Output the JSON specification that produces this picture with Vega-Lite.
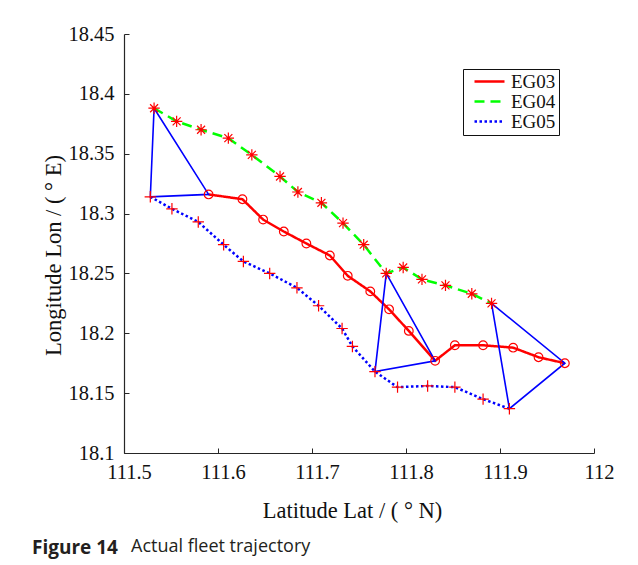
{
  "$schema": "https://vega.github.io/schema/vega-lite/v6.json",
  "autosize": "none",
  "width": 470,
  "height": 419,
  "padding": {"left": 124, "top": 34, "right": 44, "bottom": 112},
  "background": "white",
  "title": {
    "text": "Figure 14",
    "subtitle": "Actual fleet trajectory",
    "orient": "bottom",
    "anchor": "start",
    "frame": "group",
    "dx": 7,
    "offset": 17,
    "font": "Open Sans",
    "fontSize": 19,
    "fontWeight": "bold",
    "color": "#231f20",
    "subtitleFont": "Open Sans",
    "subtitleFontSize": 18,
    "subtitleFontWeight": "normal",
    "subtitleColor": "#231f20",
    "subtitlePadding": -20,
    "encoding": {"dx": {"value": -92}}
  },
  "datasets": {
    "track": [
      {"ship": "EG03", "lat": 111.590, "lon": 18.316},
      {"ship": "EG03", "lat": 111.626, "lon": 18.312},
      {"ship": "EG03", "lat": 111.648, "lon": 18.295},
      {"ship": "EG03", "lat": 111.670, "lon": 18.285},
      {"ship": "EG03", "lat": 111.694, "lon": 18.275},
      {"ship": "EG03", "lat": 111.719, "lon": 18.265},
      {"ship": "EG03", "lat": 111.738, "lon": 18.248},
      {"ship": "EG03", "lat": 111.762, "lon": 18.235},
      {"ship": "EG03", "lat": 111.782, "lon": 18.220},
      {"ship": "EG03", "lat": 111.803, "lon": 18.202},
      {"ship": "EG03", "lat": 111.831, "lon": 18.177},
      {"ship": "EG03", "lat": 111.852, "lon": 18.190},
      {"ship": "EG03", "lat": 111.882, "lon": 18.190},
      {"ship": "EG03", "lat": 111.914, "lon": 18.188},
      {"ship": "EG03", "lat": 111.941, "lon": 18.180},
      {"ship": "EG03", "lat": 111.969, "lon": 18.175},
      {"ship": "EG04", "lat": 111.532, "lon": 18.388},
      {"ship": "EG04", "lat": 111.556, "lon": 18.377},
      {"ship": "EG04", "lat": 111.582, "lon": 18.370},
      {"ship": "EG04", "lat": 111.611, "lon": 18.363},
      {"ship": "EG04", "lat": 111.636, "lon": 18.349},
      {"ship": "EG04", "lat": 111.666, "lon": 18.331},
      {"ship": "EG04", "lat": 111.685, "lon": 18.318},
      {"ship": "EG04", "lat": 111.710, "lon": 18.309},
      {"ship": "EG04", "lat": 111.733, "lon": 18.292},
      {"ship": "EG04", "lat": 111.755, "lon": 18.274},
      {"ship": "EG04", "lat": 111.779, "lon": 18.250},
      {"ship": "EG04", "lat": 111.797, "lon": 18.255},
      {"ship": "EG04", "lat": 111.817, "lon": 18.245},
      {"ship": "EG04", "lat": 111.842, "lon": 18.240},
      {"ship": "EG04", "lat": 111.870, "lon": 18.233},
      {"ship": "EG04", "lat": 111.891, "lon": 18.225},
      {"ship": "EG05", "lat": 111.528, "lon": 18.314},
      {"ship": "EG05", "lat": 111.551, "lon": 18.304},
      {"ship": "EG05", "lat": 111.579, "lon": 18.293},
      {"ship": "EG05", "lat": 111.606, "lon": 18.274},
      {"ship": "EG05", "lat": 111.627, "lon": 18.260},
      {"ship": "EG05", "lat": 111.655, "lon": 18.250},
      {"ship": "EG05", "lat": 111.684, "lon": 18.238},
      {"ship": "EG05", "lat": 111.707, "lon": 18.223},
      {"ship": "EG05", "lat": 111.732, "lon": 18.204},
      {"ship": "EG05", "lat": 111.743, "lon": 18.189},
      {"ship": "EG05", "lat": 111.767, "lon": 18.168},
      {"ship": "EG05", "lat": 111.791, "lon": 18.155},
      {"ship": "EG05", "lat": 111.823, "lon": 18.156},
      {"ship": "EG05", "lat": 111.852, "lon": 18.155},
      {"ship": "EG05", "lat": 111.882, "lon": 18.145},
      {"ship": "EG05", "lat": 111.910, "lon": 18.137}
    ],
    "tri": [
      {"tri": 1, "ord": 0, "lat": 111.532, "lon": 18.388},
      {"tri": 1, "ord": 1, "lat": 111.590, "lon": 18.316},
      {"tri": 1, "ord": 2, "lat": 111.528, "lon": 18.314},
      {"tri": 1, "ord": 3, "lat": 111.532, "lon": 18.388},
      {"tri": 2, "ord": 0, "lat": 111.779, "lon": 18.250},
      {"tri": 2, "ord": 1, "lat": 111.831, "lon": 18.177},
      {"tri": 2, "ord": 2, "lat": 111.767, "lon": 18.168},
      {"tri": 2, "ord": 3, "lat": 111.779, "lon": 18.250},
      {"tri": 3, "ord": 0, "lat": 111.891, "lon": 18.225},
      {"tri": 3, "ord": 1, "lat": 111.969, "lon": 18.175},
      {"tri": 3, "ord": 2, "lat": 111.910, "lon": 18.137},
      {"tri": 3, "ord": 3, "lat": 111.891, "lon": 18.225}
    ]
  },
  "encoding": {
    "x": {
      "field": "lat", "type": "quantitative",
      "scale": {"domain": [111.5, 112], "nice": false, "zero": false},
      "axis": {
        "title": "Latitude Lat / ( ° N)",
        "values": [111.5, 111.6, 111.7, 111.8, 111.9, 112],
        "format": ".1~f",
        "labelFlush": false,
        "labelOffset": 5,
        "labelPadding": 14,
        "titlePadding": 17,
        "titleX": 228
      }
    },
    "y": {
      "field": "lon", "type": "quantitative",
      "scale": {"domain": [18.1, 18.45], "nice": false, "zero": false},
      "axis": {
        "title": "Longitude Lon / ( ° E)",
        "values": [18.1, 18.15, 18.2, 18.25, 18.3, 18.35, 18.4, 18.45],
        "format": ".2~f",
        "labelFlush": false,
        "labelPadding": 15,
        "titlePadding": 2,
        "titleY": 221
      }
    }
  },
  "layer": [
    {
      "data": {"name": "track"},
      "mark": {"type": "line", "strokeWidth": 2.5, "strokeCap": "butt", "clip": false},
      "encoding": {
        "color": {
          "field": "ship", "type": "nominal",
          "scale": {"domain": ["EG03", "EG04", "EG05"], "range": ["#ff0000", "#00ff00", "#0000ff"]},
          "legend": {
            "title": null,
            "symbolType": "M-3,0L3,0",
            "symbolSize": 100,
            "symbolStrokeWidth": 2.5,
            "labelFont": "Liberation Serif",
            "labelFontSize": 19,
            "labelColor": "#111111"
          }
        },
        "strokeDash": {
          "field": "ship", "type": "nominal",
          "scale": {"domain": ["EG03", "EG04", "EG05"], "range": [[1, 0], [10, 6], [2.5, 2.5]]},
          "legend": {"title": null}
        }
      }
    },
    {
      "data": {"name": "tri"},
      "mark": {"type": "line", "strokeWidth": 1.6, "color": "#0000ff", "clip": false},
      "encoding": {
        "detail": {"field": "tri", "type": "nominal"},
        "order": {"field": "ord", "type": "quantitative"}
      }
    },
    {
      "data": {"name": "track"},
      "transform": [{"filter": "datum.ship === 'EG03'"}],
      "mark": {"type": "point", "shape": "circle", "size": 75, "filled": false, "color": "#ff0000", "strokeWidth": 1.2, "opacity": 1, "clip": false}
    },
    {
      "data": {"name": "track"},
      "transform": [{"filter": "datum.ship === 'EG04'"}],
      "mark": {"type": "point", "shape": "M-1,0L1,0M0,-1L0,1M-0.7,-0.7L0.7,0.7M-0.7,0.7L0.7,-0.7", "size": 130, "filled": false, "color": "#ff0000", "strokeWidth": 1.2, "opacity": 1, "clip": false}
    },
    {
      "data": {"name": "track"},
      "transform": [{"filter": "datum.ship === 'EG05'"}],
      "mark": {"type": "point", "shape": "M-1,0L1,0M0,-1L0,1", "size": 130, "filled": false, "color": "#ff0000", "strokeWidth": 1.2, "opacity": 1, "clip": false}
    }
  ],
  "config": {
    "view": {"stroke": null},
    "axis": {
      "grid": false,
      "domainColor": "#262626",
      "domainWidth": 1.2,
      "tickColor": "#262626",
      "tickSize": -5,
      "tickWidth": 1,
      "labelFont": "Liberation Serif",
      "labelFontSize": 20.5,
      "labelColor": "#111111",
      "titleFont": "Liberation Serif",
      "titleFontSize": 22.5,
      "titleFontWeight": "normal",
      "titleColor": "#111111"
    },
    "legend": {
      "orient": "none",
      "legendX": 339,
      "legendY": 35,
      "direction": "vertical",
      "strokeColor": "#111111",
      "fillColor": "white",
      "padding": 3,
      "symbolOffset": 14,
      "labelFont": "Liberation Serif",
      "labelFontSize": 19,
      "labelColor": "#111111",
      "labelOffset": 12,
      "rowPadding": -7
    }
  }
}
